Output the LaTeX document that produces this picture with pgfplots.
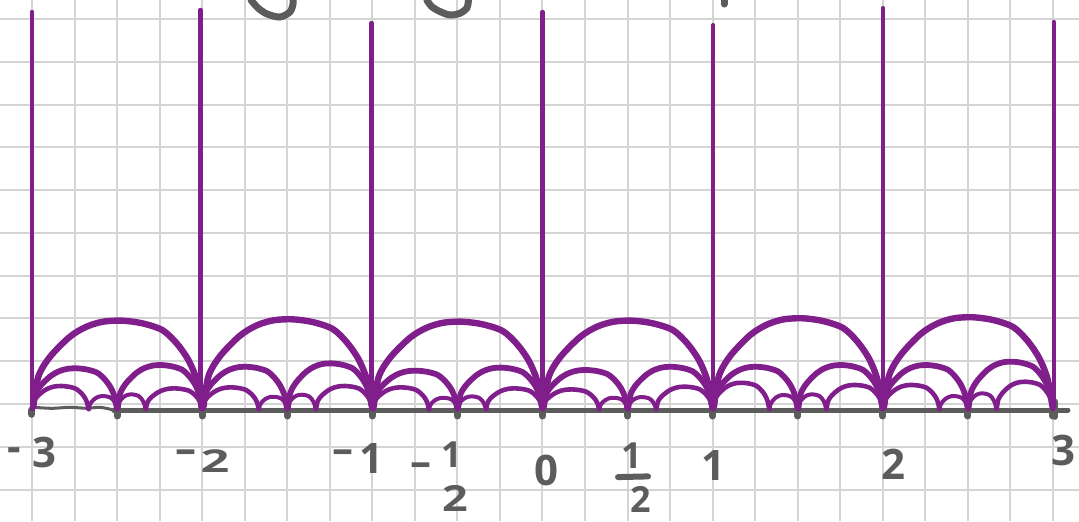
\documentclass[border=0pt]{standalone}
\usepackage{fontspec}
\setmainfont{Open Sans}
\usepackage{graphicx}
\usepackage{pgfplots}
\pgfplotsset{compat=1.18}
\usepackage{pgfplotstable}

\definecolor{farey}{RGB}{128,30,140}
\definecolor{ink}{RGB}{92,92,92}
\definecolor{paper}{RGB}{212,212,212}

\tikzset{
  lab/.style={text=ink, inner sep=0pt, font=\fontsize{21}{21}\selectfont\bfseries},
  fraclab/.style={text=ink, inner sep=0pt, font=\fontsize{18}{18}\selectfont\bfseries},
}

% profile of one hand-drawn arc: u runs along the chord (0..1), v is the height relative to the peak
\pgfplotstableread{
u     v
0.008 0.040
0.037 0.373
0.106 0.596
0.223 0.821
0.321 0.933
0.419 0.989
0.530 1.000
0.649 0.970
0.766 0.895
0.850 0.747
0.919 0.560
0.968 0.335
0.997 0.040
}\arcprofile

% geodesic between #1 and #2 with peak height #3, stroke #4
\newcommand{\fareyarc}[4]{%
  \addplot[farey, line width=#4, smooth, line cap=round, line join=round]
    table[x expr={#1+\thisrow{u}*((#2)-(#1))}, y expr={#3*\thisrow{v}}] {\arcprofile};
}

\begin{document}
\begin{tikzpicture}
\begin{axis}[
  scale only axis, width=539.5pt, height=260.5pt,
  at={(0,0)}, anchor=south west,
  xmin=-3.188, xmax=3.153, ymin=-0.652, ymax=2.409,
  xtick={-3,-2.75,...,3},
  ytick={-0.470,-0.217,0.035,0.288,0.538,0.789,1.041,1.292,1.544,1.795,2.046,2.298},
  xticklabels={}, yticklabels={},
  grid=major, major grid style={draw=paper, line width=1pt},
  axis line style={draw=none}, tick style={draw=none},
  clip=true,
]

% real line
\addplot[ink, line width=2.5pt, line cap=round] coordinates {(-2.52,0) (3.088,0)};
\addplot[ink, line width=1.5pt, smooth] coordinates {(-2.99,0.016) (-2.882,0.010) (-2.777,0.016) (-2.677,0.010) (-2.60,0.016) (-2.52,0)};
\addplot[ink, ycomb, line width=3.5pt, line cap=round] coordinates {
  (-3,-0.025) (-2.5,-0.035) (-2,-0.035) (-1.5,-0.035) (-1,-0.035) (-0.5,-0.035)
  (0,-0.035) (0.5,-0.035) (1,-0.035) (1.5,-0.035) (2,-0.035) (2.5,-0.035) (3,-0.035)};
\addplot[ink, line width=3pt, line cap=round] coordinates {(3.01,0.05) (3.01,-0.04)};

% vertical geodesics to infinity
\addplot[farey, line width=2.1pt, line cap=round] coordinates {(-3,0.02) (-3,2.339)};
\addplot[farey, line width=2.1pt, line cap=round] coordinates {(-2.01,0.02) (-2.01,2.351)};
\addplot[farey, line width=2.1pt, line cap=round] coordinates {(-1.005,0.02) (-1.005,2.274)};
\addplot[farey, line width=2.1pt, line cap=round] coordinates {(0,0.02) (0,2.339)};
\addplot[farey, line width=2.1pt, line cap=round] coordinates {(1.004,0.02) (1.004,2.262)};
\addplot[farey, line width=2.1pt, line cap=round] coordinates {(2.0,0.02) (2.0,2.362)};
\addplot[farey, line width=2.1pt, line cap=round] coordinates {(3.004,0.02) (3.004,2.280)};

% unit semicircles
\fareyarc{-3}{-2}{0.525}{3.2pt}
\fareyarc{-2}{-1}{0.533}{3.2pt}
\fareyarc{-1}{0}{0.519}{3.2pt}
\fareyarc{0}{1}{0.525}{3.2pt}
\fareyarc{1}{2}{0.539}{3.2pt}
\fareyarc{2}{3}{0.545}{3.2pt}

% halves
\fareyarc{-3}{-2.5}{0.245}{2.9pt}   \fareyarc{-2.5}{-2}{0.264}{2.9pt}
\fareyarc{-2}{-1.5}{0.254}{2.9pt}   \fareyarc{-1.5}{-1}{0.274}{2.9pt}
\fareyarc{-1}{-0.5}{0.231}{2.9pt}   \fareyarc{-0.5}{0}{0.249}{2.9pt}
\fareyarc{0}{0.5}{0.235}{2.9pt}     \fareyarc{0.5}{1}{0.254}{2.9pt}
\fareyarc{1}{1.5}{0.254}{2.9pt}     \fareyarc{1.5}{2}{0.264}{2.9pt}
\fareyarc{2}{2.5}{0.264}{2.9pt}     \fareyarc{2.5}{3}{0.284}{2.9pt}

% thirds
\fareyarc{-3}{-2.6667}{0.141}{2.3pt}   \fareyarc{-2.3333}{-2}{0.127}{2.3pt}
\fareyarc{-2}{-1.6667}{0.133}{2.3pt}   \fareyarc{-1.3333}{-1}{0.141}{2.3pt}
\fareyarc{-1}{-0.6667}{0.133}{2.3pt}   \fareyarc{-0.3333}{0}{0.127}{2.3pt}
\fareyarc{0}{0.3333}{0.121}{2.3pt}     \fareyarc{0.6667}{1}{0.137}{2.3pt}
\fareyarc{1}{1.3333}{0.160}{2.3pt}     \fareyarc{1.6667}{2}{0.147}{2.3pt}
\fareyarc{2}{2.3333}{0.147}{2.3pt}     \fareyarc{2.6667}{3}{0.166}{2.3pt}

% between thirds and halves
\fareyarc{-2.6667}{-2.5}{0.082}{2pt}   \fareyarc{-2.5}{-2.3333}{0.092}{2pt}
\fareyarc{-1.6667}{-1.5}{0.078}{2pt}   \fareyarc{-1.5}{-1.3333}{0.090}{2pt}
\fareyarc{-0.6667}{-0.5}{0.072}{2pt}   \fareyarc{-0.5}{-0.3333}{0.080}{2pt}
\fareyarc{0.3333}{0.5}{0.072}{2pt}     \fareyarc{0.5}{0.6667}{0.076}{2pt}
\fareyarc{1.3333}{1.5}{0.088}{2pt}     \fareyarc{1.5}{1.6667}{0.092}{2pt}
\fareyarc{2.3333}{2.5}{0.082}{2pt}     \fareyarc{2.5}{2.6667}{0.098}{2pt}

% handwriting cut off at the top edge
\addplot[ink, line width=3.5pt, smooth, line cap=round] coordinates {
  (-1.713,2.409) (-1.672,2.362) (-1.619,2.327) (-1.543,2.309) (-1.484,2.339) (-1.466,2.386) (-1.466,2.421)};
\addplot[ink, line width=3.5pt, smooth, line cap=round] coordinates {
  (-0.680,2.409) (-0.651,2.370) (-0.602,2.341) (-0.544,2.321) (-0.485,2.331) (-0.445,2.361) (-0.436,2.399) (-0.437,2.427)};
\addplot[ink, line width=3.5pt, line cap=round] coordinates {(1.067,2.42) (1.067,2.385)};

% fraction bar of 1/2
\addplot[ink, line width=3pt, line cap=round] coordinates {(0.444,-0.394) (0.620,-0.390)};

% tick labels
\node[lab] at (axis cs:-3.106,-0.262) {-};
\node[lab] at (axis cs:-2.929,-0.247) {3};
\node[lab] at (axis cs:-2.095,-0.276) {–};
\node[lab] at (axis cs:-1.925,-0.300) {\scalebox{1.2}[0.75]{2}};
\node[lab] at (axis cs:-1.172,-0.276) {–};
\node[lab] at (axis cs:-1.002,-0.282) {1};
\node[lab] at (axis cs:-0.714,-0.353) {–};
\node[fraclab] at (axis cs:-0.532,-0.264) {1};
\node[fraclab] at (axis cs:-0.514,-0.520) {\scalebox{1.25}[1]{2}};
\node[lab] at (axis cs:0.026,-0.353) {0};
\node[fraclab] at (axis cs:0.526,-0.270) {1};
\node[fraclab] at (axis cs:0.579,-0.528) {2};
\node[lab] at (axis cs:1.002,-0.323) {1};
\node[lab] at (axis cs:2.060,-0.317) {2};
\node[lab] at (axis cs:3.064,-0.235) {3};
\end{axis}
\pgfresetboundingbox
\useasboundingbox (0,0) rectangle (539.5pt,260.5pt);
\end{tikzpicture}
\end{document}
